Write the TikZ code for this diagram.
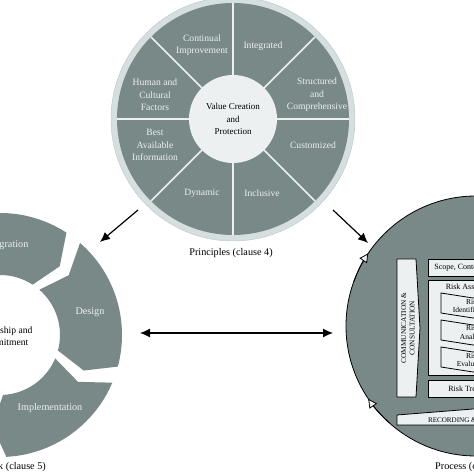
\documentclass[tikz,border=0pt]{standalone}
\usepackage{fontspec}
\setmainfont{Liberation Serif}
\usepackage{tikz}
\usetikzlibrary{graphs,arrows.meta}
\definecolor{slate}{RGB}{121,137,136}
\definecolor{pale}{RGB}{236,240,240}
\definecolor{ringgrey}{RGB}{214,223,223}

\begin{document}
\begin{tikzpicture}[x=1pt,y=1pt,
	sector/.style={text=pale, align=center, inner sep=0pt, font=\fontsize{9.6}{12.5}\selectfont},
	segtext/.style={text=pale, inner sep=0pt, font=\fontsize{10.2}{12}\selectfont},
	caption/.style={align=center, inner sep=0pt, font=\fontsize{10.2}{12}\selectfont},
	centertext/.style={align=center, inner sep=0pt, font=\fontsize{9}{12.5}\selectfont},
	procbox/.style={draw, fill=pale, line width=0.8pt},
	proctext/.style={inner sep=0pt, align=center, font=\fontsize{8}{9}\selectfont},
	>={Latex[length=10pt,width=9pt]}]
	\useasboundingbox (0,0) rectangle (474,474);
	\clip (0,0) rectangle (474,474);

	% principles
	\coordinate (pr) at (233,355);
	\fill[ringgrey] (pr) circle (122);
	\draw[slate!50] (pr) circle (122);
	\fill[slate] (pr) circle (116);
	\foreach \a in {0,45,...,315}
		\draw[pale, line width=1.5pt] (pr) -- ++(\a:116);
	\node (vcp) at (pr) [circle, fill=pale, minimum size=88, centertext] {Value Creation\\and\\Protection};
	\node (ci) at (202,429) [sector] {Continual\\Improvement};
	\node (int) at (263,428) [sector] {Integrated};
	\node (sc) at (317,379) [sector] {Structured\\and\\Comprehensive};
	\node (cus) at (313,329) [sector] {Customized};
	\node (inc) at (262,281) [sector] {Inclusive};
	\node (dyn) at (202,281) [sector] {Dynamic};
	\node (bai) at (155,329) [sector] {Best\\Available\\Information};
	\node (hcf) at (155,379) [sector] {Human and\\Cultural\\Factors};
	\node (prl) at (231,221) [caption] {Principles (clause 4)};

	% framework
	\begin{scope}[shift={(0,139)}]
		\foreach \a/\b in {121/57,49/-15,-23/-87}
			\fill[slate] (\a:122) arc[start angle=\a, end angle=\b, radius=122]
				-- (\b-8:91) -- (\b:60) arc[start angle=\b, end angle=\a, radius=60]
				-- (\a-8:91) -- cycle;
	\end{scope}
	\node (intg) at (6,229) [segtext] {Integration};
	\node (des) at (90,162) [segtext] {Design};
	\node (imp) at (50,66) [segtext] {Implementation};
	\node (lc) at (3,138) [centertext, font=\fontsize{9.6}{12.5}\selectfont] {Leadership and\\Commitment};
	\node (fwl) at (46,7) [caption, anchor=east] {Framework (clause 5)};

	% process
	\coordinate (pc) at (476,148);
	\filldraw[fill=slate, draw=black, line width=0.8pt] (pc) circle (130);
	\draw[line width=0.8pt, -{Triangle[length=9pt,width=9pt,fill=pale]}]
		([shift={(160:130)}]pc) arc[start angle=160, end angle=146, radius=130];
	\draw[line width=0.8pt, -{Triangle[length=9pt,width=9pt,fill=pale]}]
		([shift={(228:130)}]pc) arc[start angle=228, end angle=214, radius=130];
	\draw[procbox] (397,77) -- (397,215) -- (416,215) -- (420,146) -- (416,77) -- cycle;
	\node (cc) at (408,146) [proctext, rotate=90, font=\fontsize{7.3}{8.5}\selectfont] {COMMUNICATION \&\\CONSULTATION};
	\node (scope) at (473,206.5) [procbox, minimum width=90, minimum height=17, proctext] {Scope, Context, Criteria};
	\node (ra) at (473,146.5) [procbox, minimum width=90, minimum height=95] {};
	\node (ral) at (473,187) [proctext] {Risk Assessment};
	\foreach \t/\n in {181/Identification,154/Analysis,127/Evaluation} {
		\draw[procbox] (441,\t) -- (473,\t-5) -- (505,\t) -- (505,\t-20) -- (473,\t-25) -- (441,\t-20) -- cycle;
		\node (r\n) at (473,\t-13) [proctext, font=\fontsize{7.5}{8.5}\selectfont] {Risk\\\n};
	}
	\node (rt) at (473,85.5) [procbox, minimum width=90, minimum height=17, proctext] {Risk Treatment};
	\draw[procbox] (397,49) -- (397,59) -- (473,65) -- (549,59) -- (549,49) -- cycle;
	\node (rr) at (473,54) [proctext, font=\fontsize{7.1}{8}\selectfont] {RECORDING \& REPORTING};
	\node (pcl) at (472,7) [caption] {Process (clause 6)};

	\coordinate (a1) at (138,264);
	\coordinate (fw) at (100,232);
	\coordinate (a2) at (333,264);
	\coordinate (pi) at (368,231);
	\coordinate (fwr) at (140,141);
	\coordinate (pcr) at (333,141);
	\begin{scope}[line width=1.2pt]
		\graph {
			(a1) -> (fw);
			(a2) -> (pi);
			(fwr) <-> (pcr);
		};
	\end{scope}
\end{tikzpicture}
\end{document}
